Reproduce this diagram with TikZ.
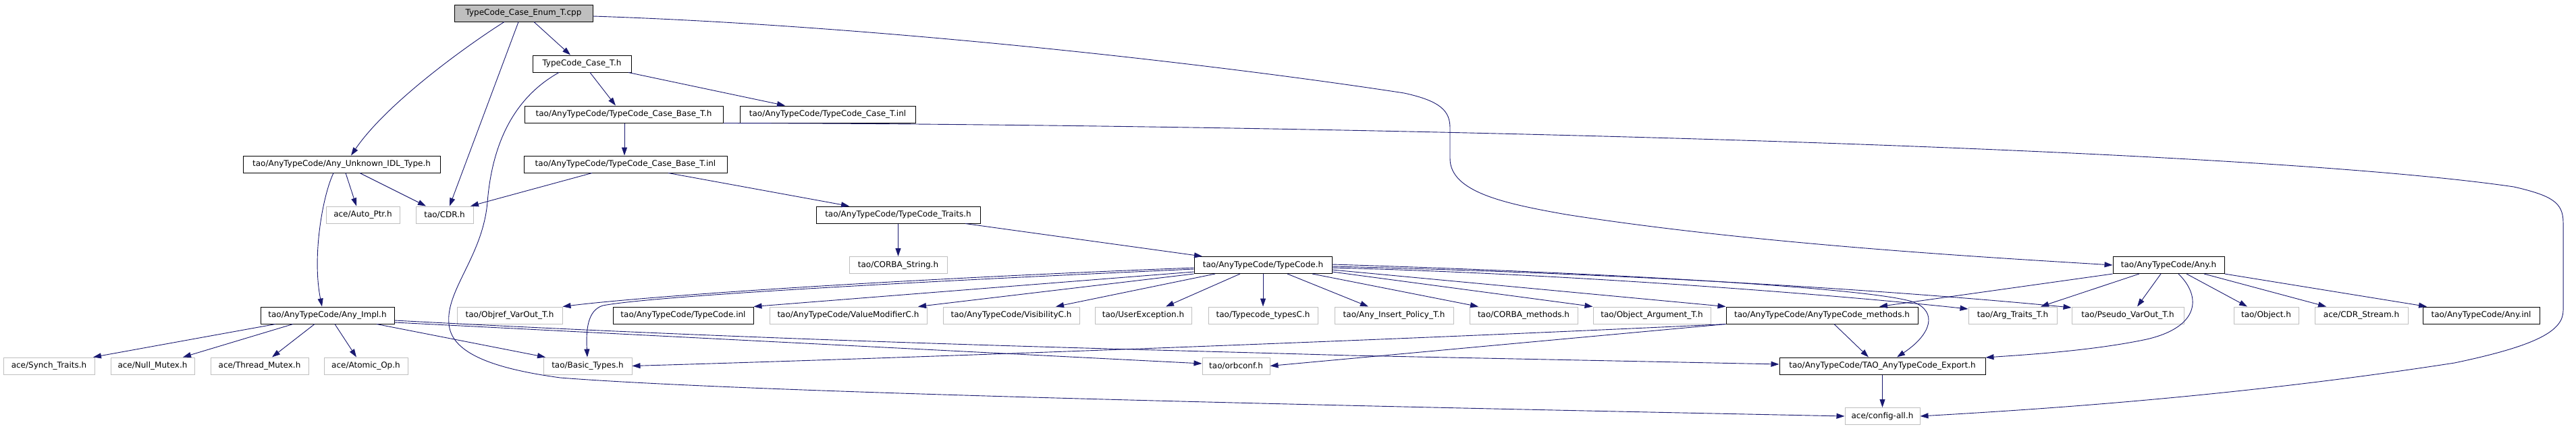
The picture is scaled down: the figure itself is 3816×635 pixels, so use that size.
\documentclass[tikz,border=0pt]{standalone}
\usepackage{fontspec}
\setmainfont{DejaVu Sans}
\usetikzlibrary{arrows.meta}
\definecolor{edgec}{HTML}{191970}
\definecolor{greyb}{HTML}{BFBFBF}
\begin{document}
\begin{tikzpicture}[x=1pt,y=-1pt,
  box/.style={draw=black, line width=1pt, minimum height=25pt, inner sep=0pt, font=\fontsize{12}{14}\selectfont},
  gbox/.style={box, draw=greyb},
  root/.style={box, fill=greyb},
  edge/.style={draw=edgec, line width=0.9pt, -{Triangle[length=12pt,width=8pt]}}]
\fill[white] (0,0) rectangle (3816,635);
\useasboundingbox (0,0) rectangle (3816,635);
% row 0
\node[root, minimum width=205pt] (cpp) at (775.5,19.5) {TypeCode\_Case\_Enum\_T.cpp};
\node[box, minimum width=146pt] (caseTh) at (862,94.5) {TypeCode\_Case\_T.h};
\node[box, minimum width=294pt] (caseBaseTh) at (924,169.5) {tao/AnyTypeCode/TypeCode\_Case\_Base\_T.h};
\node[box, minimum width=260pt] (caseTinl) at (1226,169.5) {tao/AnyTypeCode/TypeCode\_Case\_T.inl};
\node[box, minimum width=301pt] (caseBaseTinl) at (926.5,243.5) {tao/AnyTypeCode/TypeCode\_Case\_Base\_T.inl};
\node[box, minimum width=292pt] (anyUnk) at (506,243.5) {tao/AnyTypeCode/Any\_Unknown\_IDL\_Type.h};
\node[gbox, minimum width=109pt] (autoPtr) at (537.5,318.5) {ace/Auto\_Ptr.h};
\node[gbox, minimum width=85pt] (cdr) at (658.5,318.5) {tao/CDR.h};
\node[box, minimum width=243pt] (traits) at (1330.5,318.5) {tao/AnyTypeCode/TypeCode\_Traits.h};
\node[gbox, minimum width=145pt] (corbaStr) at (1330.5,393) {tao/CORBA\_String.h};
\node[box, minimum width=204pt] (tch) at (1871,393) {tao/AnyTypeCode/TypeCode.h};
\node[box, minimum width=165pt] (anyh) at (3212.5,393) {tao/AnyTypeCode/Any.h};
% row 467.5
\node[box, minimum width=198pt] (anyImpl) at (485,467.5) {tao/AnyTypeCode/Any\_Impl.h};
\node[gbox, minimum width=156pt] (objref) at (755,467.5) {tao/Objref\_VarOut\_T.h};
\node[box, minimum width=208pt] (tcinl) at (1012,467.5) {tao/AnyTypeCode/TypeCode.inl};
\node[gbox, minimum width=233pt] (valmod) at (1256.5,467.5) {tao/AnyTypeCode/ValueModifierC.h};
\node[gbox, minimum width=202pt] (visib) at (1498,467.5) {tao/AnyTypeCode/VisibilityC.h};
\node[gbox, minimum width=143pt] (userexc) at (1693.5,467.5) {tao/UserException.h};
\node[gbox, minimum width=162pt] (tctypes) at (1871,467.5) {tao/Typecode\_typesC.h};
\node[gbox, minimum width=176pt] (anyins) at (2065,467.5) {tao/Any\_Insert\_Policy\_T.h};
\node[gbox, minimum width=160pt] (corbameth) at (2257,467.5) {tao/CORBA\_methods.h};
\node[gbox, minimum width=174pt] (objarg) at (2447,467.5) {tao/Object\_Argument\_T.h};
\node[box, minimum width=284pt] (atcmeth) at (2699,467.5) {tao/AnyTypeCode/AnyTypeCode\_methods.h};
\node[gbox, minimum width=131pt] (argtr) at (2981.5,467.5) {tao/Arg\_Traits\_T.h};
\node[gbox, minimum width=166pt] (pseudo) at (3152,467.5) {tao/Pseudo\_VarOut\_T.h};
\node[gbox, minimum width=96pt] (objecth) at (3357,467.5) {tao/Object.h};
\node[gbox, minimum width=138pt] (cdrstream) at (3498,467.5) {ace/CDR\_Stream.h};
\node[box, minimum width=173pt] (anyinl) at (3675.5,467.5) {tao/AnyTypeCode/Any.inl};
% row 542.5
\node[gbox, minimum width=135pt] (synch) at (72.5,542.5) {ace/Synch\_Traits.h};
\node[gbox, minimum width=124pt] (nullm) at (226,542.5) {ace/Null\_Mutex.h};
\node[gbox, minimum width=145pt] (threadm) at (384.5,542.5) {ace/Thread\_Mutex.h};
\node[gbox, minimum width=124pt] (atomic) at (542,542.5) {ace/Atomic\_Op.h};
\node[gbox, minimum width=131pt] (basic) at (870.5,542.5) {tao/Basic\_Types.h};
\node[gbox, minimum width=100pt] (orbconf) at (1831,542.5) {tao/orbconf.h};
\node[box, minimum width=305pt] (export) at (2788.5,542.5) {tao/AnyTypeCode/TAO\_AnyTypeCode\_Export.h};
\node[gbox, minimum width=111pt] (config) at (2788.5,617) {ace/config-all.h};
% edges from cpp
\draw[edge] (cpp.south -| 791,0) -- (caseTh.north -| 845,0);
\draw[edge] (cpp.south -| 747,0) .. controls (700,62) and (575,150) .. (anyUnk.north -| 520,0);
\draw[edge] (cpp.south -| 768,0) -- (cdr.north -| 666,0);
\draw[edge] (cpp.east |- 0,24) .. controls (1300,38) and (1800,95) .. (2080,138) .. controls (2135,150) and (2148,165) .. (2148,190) -- (2148,235) .. controls (2148,285) and (2230,302) .. (2320,318) .. controls (2600,362) and (2950,382) .. (anyh.west);
% TypeCode_Case_T.h
\draw[edge] (caseTh.south -| 874,0) -- (caseBaseTh.north -| 912,0);
\draw[edge] (caseTh.south -| 931,0) -- (caseTinl.north -| 1163,0);
\draw[edge] (caseTh.south -| 828,0) .. controls (770,140) and (730,200) .. (722,300) .. controls (715,380) and (660,430) .. (665,480) .. controls (668,520) and (720,545) .. (830,560) .. controls (1150,585) and (2200,606) .. (config.west);
% TypeCode_Case_Base_T.h
\draw[edge] (caseBaseTh.south -| 925,0) -- (caseBaseTinl.north -| 925,0);
\draw[edge] (caseBaseTh.south east) .. controls (1900,184) and (3300,215) .. (3724,277) .. controls (3780,290) and (3797,300) .. (3797,330) -- (3797,460) .. controls (3797,490) and (3760,512) .. (3636,538) .. controls (3300,590) and (3000,608) .. (config.east);
% TypeCode_Case_Base_T.inl
\draw[edge] (caseBaseTinl.south -| 877,0) -- (cdr.north -| 697,0);
\draw[edge] (caseBaseTinl.south -| 990,0) -- (traits.north -| 1258,0);
% Any_Unknown_IDL_Type.h
\draw[edge] (anyUnk.south -| 512,0) -- (autoPtr.north -| 528,0);
\draw[edge] (anyUnk.south -| 533,0) -- (cdr.north -| 631,0);
\draw[edge] (anyUnk.south -| 494,0) .. controls (478,290) and (462,380) .. (anyImpl.north -| 477,0);
% Any_Impl.h
\draw[edge] (anyImpl.south -| 408,0) -- (synch.north -| 138,0);
\draw[edge] (anyImpl.south -| 434,0) -- (nullm.north -| 271,0);
\draw[edge] (anyImpl.south -| 466,0) -- (threadm.north -| 403,0);
\draw[edge] (anyImpl.south -| 496,0) -- (atomic.north -| 528,0);
\draw[edge] (anyImpl.south -| 558,0) -- (basic.north -| 808,0);
\draw[edge] (anyImpl.east |- 0,478) -- (orbconf.west |- 0,539);
\draw[edge] (anyImpl.east |- 0,475) .. controls (1200,508) and (1700,518) .. (2000,527) -- (export.west |- 0,540);
% AnyTypeCode_methods.h
\draw[edge] (atcmeth.south west) .. controls (2000,507) and (1300,532) .. (basic.east);
\draw[edge] (atcmeth.south west) -- (orbconf.east);
\draw[edge] (atcmeth.south -| 2717,0) -- (export.north -| 2768,0);
% Traits
\draw[edge] (traits.south) -- (corbaStr.north);
\draw[edge] (traits.south -| 1430,0) -- (tch.north -| 1781,0);
% TypeCode.h
\draw[edge] (tch.west |- 0,397) .. controls (1300,415) and (950,440) .. (objref.north east);
\draw[edge] (tch.west |- 0,399) .. controls (1300,420) and (960,440) .. (893,453) .. controls (870,460) and (868,490) .. (basic.north -| 870,0);
\draw[edge] (tch.west |- 0,403) -- (tcinl.north east);
\draw[edge] (tch.south west) -- (valmod.north -| 1360,0);
\draw[edge] (tch.south -| 1800,0) -- (visib.north -| 1564,0);
\draw[edge] (tch.south -| 1837,0) -- (userexc.north -| 1727,0);
\draw[edge] (tch.south -| 1871,0) -- (tctypes.north -| 1871,0);
\draw[edge] (tch.south -| 1907,0) -- (anyins.north -| 2027,0);
\draw[edge] (tch.south -| 1944,0) -- (corbameth.north -| 2190,0);
\draw[edge] (tch.east |- 0,403) -- (objarg.north west);
\draw[edge] (tch.east |- 0,400) -- (atcmeth.north west);
\draw[edge] (tch.east |- 0,397) .. controls (2300,405) and (2700,435) .. (argtr.west |- 0,458);
\draw[edge] (tch.east |- 0,395) .. controls (2400,405) and (2800,430) .. (pseudo.west |- 0,456);
\draw[edge] (tch.east |- 0,392) .. controls (2400,405) and (2780,428) .. (2835,448) .. controls (2870,462) and (2862,495) .. (export.north -| 2810,0);
% Any.h
\draw[edge] (anyh.south west) -- (atcmeth.north -| 2784,0);
\draw[edge] (anyh.south -| 3169,0) -- (argtr.north -| 3023,0);
\draw[edge] (anyh.south -| 3201,0) -- (pseudo.north -| 3166,0);
\draw[edge] (anyh.south -| 3227,0) .. controls (3262,440) and (3258,485) .. (3180,503) .. controls (3100,520) and (3000,526) .. (export.east |- 0,530);
\draw[edge] (anyh.south -| 3239,0) -- (objecth.north -| 3329,0);
\draw[edge] (anyh.south -| 3265,0) -- (cdrstream.north -| 3446,0);
\draw[edge] (anyh.south east) -- (anyinl.north -| 3595,0);
% Export
\draw[edge] (export.south) -- (config.north);
\end{tikzpicture}
\end{document}
